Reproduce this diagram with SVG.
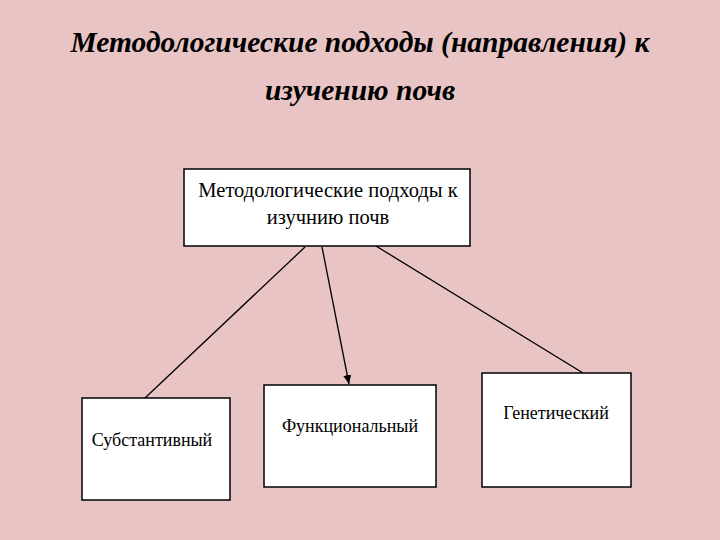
<svg xmlns="http://www.w3.org/2000/svg" width="720" height="540" viewBox="0 0 720 540">
<defs>
<style>
.title{font-family:"Liberation Serif",serif;font-style:italic;font-weight:bold;font-size:29.5px;fill:#000;text-anchor:middle}
.box{fill:#fff;stroke:#000;stroke-width:1.5}
.lbl{font-family:"Liberation Serif",serif;font-size:18px;fill:#000;text-anchor:middle}
.big{font-size:20.5px}
.conn{stroke:#000;stroke-width:1.3;fill:none}
</style>
<marker id="arr" markerWidth="10" markerHeight="10" refX="9" refY="5" orient="auto" markerUnits="userSpaceOnUse">
<path d="M0,1 L9,5 L0,9 z" fill="#000"/>
</marker>
</defs>
<rect width="720" height="540" fill="#E8C4C4"/>
<text class="title" x="360" y="52">Методологические подходы (направления) к</text>
<text class="title" x="360" y="100">изучению почв</text>
<g id="connectors">
<line class="conn" x1="305" y1="247" x2="145" y2="398"/>
<line class="conn" x1="322" y1="247" x2="349" y2="384" marker-end="url(#arr)"/>
<line class="conn" x1="376" y1="246" x2="583" y2="373"/>
</g>
<g id="root">
<rect class="box" x="184" y="169" width="286" height="77"/>
<text class="lbl big" x="328" y="197">Методологические подходы к</text>
<text class="lbl big" x="328" y="224">изучнию почв</text>
</g>
<g id="substantive">
<rect class="box" x="82" y="398" width="148" height="102"/>
<text class="lbl" x="152" y="446">Субстантивный</text>
</g>
<g id="functional">
<rect class="box" x="264" y="385" width="172" height="102"/>
<text class="lbl" x="350" y="432">Функциональный</text>
</g>
<g id="genetic">
<rect class="box" x="482" y="373" width="149" height="114"/>
<text class="lbl" x="556" y="419">Генетический</text>
</g>
</svg>
